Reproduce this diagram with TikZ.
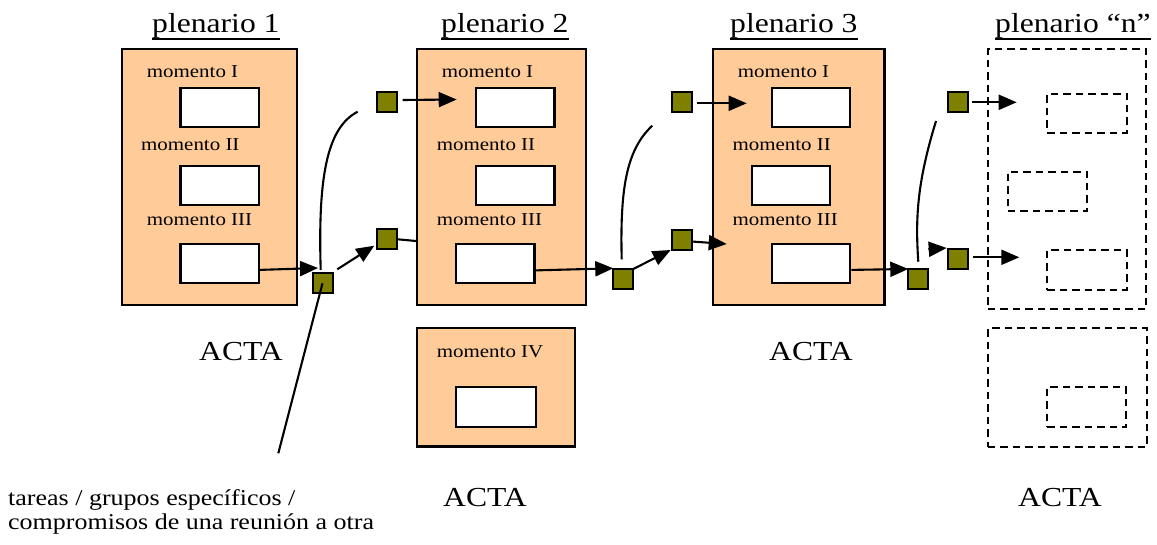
\documentclass[tikz,border=0pt]{standalone}
\usepackage{fontspec}
\setmainfont{Liberation Serif}[FakeStretch=1.15]
\usetikzlibrary{arrows.meta}
\definecolor{tanfill}{HTML}{FFCC99}
\definecolor{oliv}{HTML}{808000}
\begin{document}
\begin{tikzpicture}[x=1pt,y=-1pt,
 plen/.style={draw=black, fill=tanfill, line width=2.2pt, anchor=north west, inner sep=0pt},
 mbox/.style={draw=black, fill=white, line width=2.2pt, anchor=north west, inner sep=0pt, minimum width=78.4pt, minimum height=39pt},
 dbox/.style={draw=black, dash pattern=on 7.5pt off 5pt, line width=2.2pt, anchor=north west, inner sep=0pt},
 sq/.style={draw=black, fill=oliv, line width=2pt, minimum size=20pt, inner sep=0pt},
 lab/.style={anchor=base west, inner sep=0pt, font=\fontsize{18.2}{20}\selectfont},
 big/.style={anchor=base west, inner sep=0pt, font=\fontsize{27.5}{30}\selectfont},
 note/.style={anchor=base west, inner sep=0pt, font=\fontsize{22.6}{24}\selectfont},
 arr/.style={line width=2.1pt, -{Triangle[length=18pt,width=15pt]}},
 ln/.style={line width=2.1pt},
 uline/.style={line width=1.8pt},
]
\useasboundingbox (0,0) rectangle (1157,545);

% titles
\node[big] (t1) at (152,33) {plenario 1};
\node[big] (t2) at (441,33) {plenario 2};
\node[big] (t3) at (730,33) {plenario 3};
\node[big] (tn) at (995,33) {plenario “n”};
\foreach \t in {t1,t2,t3,tn}{
  \draw[uline] ([yshift=-6pt]\t.base west) -- ([yshift=-6pt]\t.base east);
}

% plenario 1
\node[plen, minimum width=175pt, minimum height=256pt] (p1) at (121,48) {};
\node[mbox] (p1m1) at (179.3,86.7) {};
\node[mbox] (p1m2) at (179.3,165) {};
\node[mbox] (p1m3) at (179.3,243.3) {};
\node[lab] (l11) at (146.7,77.7) {momento I};
\node[lab] (l12) at (141,150.7) {momento II};
\node[lab] (l13) at (146.7,225.7) {momento III};
\node[big] (acta1) at (199,360) {ACTA};

% plenario 2
\node[plen, minimum width=169pt, minimum height=256pt] (p2) at (416,48) {};
\node[mbox] (p2m1) at (475,86.7) {};
\node[mbox] (p2m2) at (475,165) {};
\node[mbox] (p2m3) at (455,243.3) {};
\node[lab] (l21) at (441.7,77.7) {momento I};
\node[lab] (l22) at (436.7,150.7) {momento II};
\node[lab] (l23) at (436.7,225.7) {momento III};
\node[plen, minimum width=158pt, minimum height=118pt] (p2b) at (416,327.3) {};
\node[mbox, minimum width=80pt, minimum height=39.7pt] (p2m4) at (455,386) {};
\node[lab] (l24) at (436.7,357.7) {momento IV};
\node[big] (acta2) at (443,506.7) {ACTA};

% plenario 3
\node[plen, minimum width=171.3pt, minimum height=256pt] (p3) at (712,48) {};
\node[mbox] (p3m1) at (770.7,86.7) {};
\node[mbox] (p3m2) at (750.7,165) {};
\node[mbox] (p3m3) at (770.7,243.3) {};
\node[lab] (l31) at (737.7,77.3) {momento I};
\node[lab] (l32) at (732.3,150.7) {momento II};
\node[lab] (l33) at (732.3,225.7) {momento III};
\node[big] (acta3) at (769,360) {ACTA};

% plenario n
\node[dbox, minimum width=158.3pt, minimum height=260.3pt] (pn) at (986.7,48) {};
\node[dbox, minimum width=79.7pt, minimum height=39pt] (pnm1) at (1046,92.7) {};
\node[dbox, minimum width=79.3pt, minimum height=39.3pt] (pnm2) at (1006.7,170.7) {};
\node[dbox, minimum width=79.7pt, minimum height=39.7pt] (pnm3) at (1046,249) {};
\node[dbox, minimum width=159pt, minimum height=118.7pt] (pnb) at (986.7,327.3) {};
\node[dbox, minimum width=79pt, minimum height=40.3pt] (pnm4) at (1046,385.7) {};
\node[big] (actan) at (1018,506.7) {ACTA};

% note
\node[note] (n1) at (8,505) {tareas / grupos específicos /};
\node[note] (n2) at (8,529.3) {compromisos de una reunión a otra};

% squares
\node[sq] (s1) at (322.5,283.3) {};
\node[sq] (s2) at (386.7,102.5) {};
\node[sq] (s3) at (386.7,239.3) {};
\node[sq] (s4) at (622.7,279) {};
\node[sq] (s5) at (682,102.3) {};
\node[sq] (s6) at (682,239.6) {};
\node[sq] (s7) at (918.3,278.7) {};
\node[sq] (s8) at (957.7,102.3) {};
\node[sq] (s9) at (957.7,259) {};

% free ends
\coordinate (a1) at (318,268);
\coordinate (a2s) at (337.3,269.3);
\coordinate (a2e) at (374.3,245.7);
\coordinate (a3s) at (320.7,270);
\coordinate (a3e) at (357.7,111.7);
\coordinate (a4) at (278.3,453.3);
\coordinate (a5s) at (402.7,100);
\coordinate (a5e) at (456.7,99.5);
\coordinate (a6) at (416,241);
\coordinate (a7) at (613.3,268.3);
\coordinate (a8s) at (633.3,269);
\coordinate (a8e) at (670.7,250);
\coordinate (a9) at (726.7,244);
\coordinate (a10s) at (696.7,103.3);
\coordinate (a10e) at (746.7,103.3);
\coordinate (a11s) at (621.7,259.3);
\coordinate (a11e) at (652.3,125.7);
\coordinate (a12) at (908.3,269);
\coordinate (a13s) at (928.3,249.3);
\coordinate (a14s) at (973.3,257.3);
\coordinate (a14e) at (1019.3,257.3);
\coordinate (a15s) at (971.7,102.3);
\coordinate (a15e) at (1016.7,102.3);
\coordinate (a16s) at (918.3,261.7);
\coordinate (a16e) at (936,121);

% connectors
\draw[arr] ([yshift=-6pt]p1m3.east) -- (a1);
\draw[arr] (a2s) -- (a2e);
\draw[ln] (a3s) .. controls (318,180) and (326,128) .. (a3e);
\draw[ln] (s1.center) -- (a4);
\draw[arr] (a5s) -- (a5e);
\draw[ln] (s3.east) -- (a6);
\draw[arr] ([yshift=-6.5pt]p2m3.east) -- (a7);
\draw[arr] (a8s) -- (a8e);
\draw[arr] ([yshift=-2pt]s6.east) -- (a9);
\draw[arr] (a10s) -- (a10e);
\draw[ln] (a11s) .. controls (620,190) and (626,150) .. (a11e);
\draw[arr] ([yshift=-6pt]p3m3.east) -- (a12);
\draw[arr] (a13s) -- (s9.north west);
\draw[arr] (a14s) -- (a14e);
\draw[arr] (a15s) -- (a15e);
\draw[ln] (a16s) .. controls (915,215) and (918,180) .. (a16e);
\end{tikzpicture}
\end{document}
